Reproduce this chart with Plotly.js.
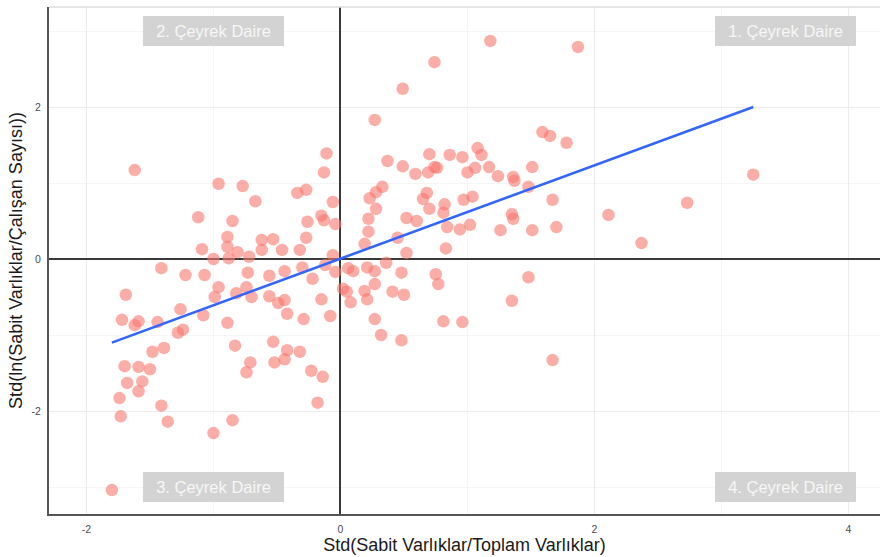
<!DOCTYPE html>
<html>
<head>
<meta charset="utf-8">
<script src="https://cdn.plot.ly/plotly-3.0.1.min.js"></script>
<style>
html,body{margin:0;padding:0;background:#fff;}
#chart{width:880px;height:557px;}
</style>
</head>
<body>
<div id="chart"></div>
<script>
// Standardized fixed assets / total assets (x) vs standardized ln(fixed assets / employees) (y)
var pointsX = [
 1.18, 1.87, 0.74, 0.49, 0.27, -0.11, -0.13, 0.37, 0.49, 0.59,
 0.70, 0.69, 0.74, 0.76, 0.86, 0.96, 1.08, 1.11, 1.17, 1.00,
 1.06, 1.59, 1.65, 1.78, 1.24, 1.36, 1.37, 1.51, 1.48, 1.67,
 1.35, 1.36, 1.26, 1.51, 1.70, 2.11, 2.73, 3.25, 2.37, -0.34,
 -0.27, -0.06, 0.23, 0.28, 0.33, 0.28, 0.22, 0.22, 0.19, -0.15,
 -0.13, -0.26, -0.04, -0.27, -0.32, 0.52, 0.60, 0.68, 0.65, 0.70,
 0.82, 0.81, 0.84, 0.94, 0.97, 1.04, 1.02, 0.83, 0.52, 0.45,
 0.36, -0.06, -0.30, -1.62, -0.96, -0.77, -0.67, -1.12, -0.85, -0.89,
 -0.62, -0.53, -1.09, -0.89, -0.81, -0.62, -0.46, -1.00, -0.88, -0.72,
 -1.41, -1.22, -1.07, -0.73, -0.56, -0.44, -1.69, -0.96, -0.99, -0.74,
 -0.82, -0.70, -0.56, -0.44, -0.12, -0.04, 0.06, 0.10, 0.21, 0.27,
 0.48, 0.75, 0.77, -0.22, 0.02, 0.08, 0.05, 0.19, 0.21, 0.27,
 0.41, 0.50, -0.15, -0.29, -0.08, 0.27, 0.32, 0.48, 0.81, 0.96,
 -1.72, -1.59, -1.62, -1.44, -1.26, -1.28, -1.24, -1.08, -0.89, -0.49,
 -0.42, -0.83, -0.71, -0.74, -0.53, -0.42, -0.44, -0.52, -0.32, -1.48,
 -1.39, -1.70, -1.59, -1.50, -1.68, -1.56, -1.59, -1.74, -1.41, -1.73,
 -1.36, -1.00, -0.85, -1.80, -0.23, -0.14, -0.18, 1.67, 1.48, 1.35
];
var pointsY = [
 2.87, 2.79, 2.59, 2.24, 1.83, 1.39, 1.14, 1.29, 1.22, 1.12,
 1.38, 1.14, 1.21, 1.20, 1.37, 1.34, 1.46, 1.37, 1.21, 1.14,
 1.20, 1.67, 1.62, 1.53, 1.09, 1.08, 1.03, 1.21, 0.95, 0.78,
 0.59, 0.53, 0.38, 0.38, 0.42, 0.58, 0.74, 1.11, 0.21, 0.87,
 0.91, 0.75, 0.80, 0.88, 0.95, 0.66, 0.53, 0.36, 0.20, 0.57,
 0.51, 0.49, 0.46, 0.28, 0.12, 0.54, 0.50, 0.87, 0.79, 0.66,
 0.72, 0.61, 0.42, 0.39, 0.78, 0.82, 0.45, 0.14, 0.08, 0.28,
 -0.05, 0.05, -0.11, 1.17, 0.99, 0.96, 0.76, 0.55, 0.50, 0.29,
 0.25, 0.26, 0.13, 0.16, 0.09, 0.12, 0.12, 0.00, 0.01, 0.03,
 -0.12, -0.21, -0.21, -0.18, -0.22, -0.16, -0.47, -0.37, -0.50, -0.37,
 -0.45, -0.50, -0.49, -0.54, -0.08, -0.17, -0.12, -0.16, -0.11, -0.16,
 -0.18, -0.20, -0.33, -0.26, -0.39, -0.57, -0.43, -0.42, -0.53, -0.33,
 -0.43, -0.47, -0.53, -0.79, -0.75, -0.79, -1.00, -1.07, -0.82, -0.83,
 -0.80, -0.82, -0.87, -0.83, -0.66, -0.97, -0.93, -0.74, -0.84, -0.58,
 -0.72, -1.14, -1.36, -1.49, -1.09, -1.20, -1.32, -1.36, -1.22, -1.22,
 -1.17, -1.41, -1.42, -1.45, -1.63, -1.61, -1.74, -1.83, -1.93, -2.07,
 -2.14, -2.29, -2.12, -3.04, -1.47, -1.55, -1.89, -1.33, -0.24, -0.55
];
// fitted regression line
var fitX = [-1.80, 3.25];
var fitY = [-1.10, 2.00];
// quadrant labels
var quadLabels = ['1. Çeyrek Daire', '2. Çeyrek Daire', '3. Çeyrek Daire', '4. Çeyrek Daire'];
var quadX = [3.5, -1, -1, 3.5];
var quadY = [3, 3, -3, -3];
// tick labels
var xTickVals = [-2, 0, 2, 4];
var xTickText = ['-2', '0', '2', '4'];
var yTickVals = [-2, 0, 2];
var yTickText = ['-2', '0', '2'];

var FONT = 'Liberation Sans, Arial, Helvetica, sans-serif';

var traces = [
  {
    type: 'scatter', mode: 'markers', x: pointsX, y: pointsY,
    marker: {color: '#F8766D', opacity: 0.6, size: 12.5, line: {width: 0}},
    hoverinfo: 'x+y', showlegend: false
  },
  {
    type: 'scatter', mode: 'lines', x: fitX, y: fitY,
    line: {color: '#3366FF', width: 2.6}, showlegend: false
  }
];

var annotations = quadLabels.map(function (t, i) {
  return {
    x: quadX[i], y: quadY[i], xref: 'x', yref: 'y', text: t, showarrow: false,
    font: {family: FONT, size: 16.5, color: '#f7f7f7'},
    bgcolor: '#d3d3d3', borderwidth: 0, borderpad: 2,
    width: 137, height: 26, align: 'center', valign: 'middle'
  };
});

var layout = {
  width: 880, height: 557,
  margin: {l: 49, r: 0, t: 7, b: 43, pad: 0},
  paper_bgcolor: '#ffffff', plot_bgcolor: '#ffffff',
  font: {family: FONT, color: '#4d4d4d'},
  showlegend: false,
  xaxis: {
    range: [-2.295, 4.248], autorange: false,
    tickmode: 'array', tickvals: xTickVals, ticktext: xTickText,
    tickfont: {family: FONT, size: 10.5, color: '#4d4d4d'},
    ticks: 'outside', ticklen: 4, tickcolor: 'rgba(0,0,0,0)',
    showgrid: true, gridcolor: '#ebebeb', gridwidth: 1,
    minor: {dtick: 1, tick0: 0, showgrid: true, gridcolor: '#f5f5f5', gridwidth: 1, ticks: ''},
    zeroline: true, zerolinecolor: '#3a3a3a', zerolinewidth: 2,
    showline: true, linecolor: '#555555', linewidth: 2,
    title: {text: 'Std(Sabit Varlıklar/Toplam Varlıklar)', font: {family: FONT, size: 18, color: '#1a1a1a'}, standoff: 1},
    automargin: false
  },
  yaxis: {
    range: [-3.355, 3.316], autorange: false,
    tickmode: 'array', tickvals: yTickVals, ticktext: yTickText,
    tickfont: {family: FONT, size: 10.5, color: '#4d4d4d'},
    ticks: 'outside', ticklen: 4, tickcolor: 'rgba(0,0,0,0)',
    showgrid: true, gridcolor: '#ebebeb', gridwidth: 1,
    minor: {dtick: 1, tick0: 1, showgrid: true, gridcolor: '#f5f5f5', gridwidth: 1, ticks: ''},
    zeroline: true, zerolinecolor: '#3a3a3a', zerolinewidth: 2,
    showline: true, linecolor: '#555555', linewidth: 2,
    title: {text: 'Std(ln(Sabit Varlıklar/Çalışan Sayısı))', font: {family: FONT, size: 18, color: '#1a1a1a'}, standoff: 4},
    automargin: false
  },
  shapes: [
    {type: 'line', xref: 'paper', yref: 'paper', x0: 0, x1: 1, y0: 1, y1: 1,
     line: {color: '#dcdcdc', width: 1.5}}
  ],
  annotations: annotations
};

Plotly.newPlot('chart', traces, layout, {displayModeBar: false, staticPlot: true});
</script>
</body>
</html>
